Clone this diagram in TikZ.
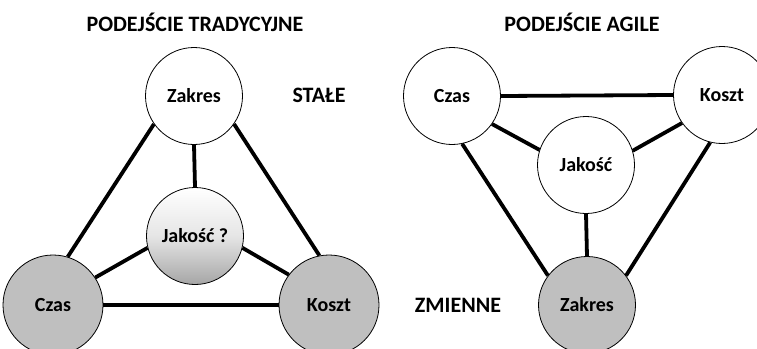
\documentclass[tikz,border=0pt]{standalone}
\usepackage{fontspec}
\setmainfont{Carlito}
\begin{document}
\begin{tikzpicture}[x=1pt,y=-1pt,
  circ/.style={circle,draw=black,line width=0.8pt,minimum size=97pt,inner sep=0pt,font=\fontsize{20}{22}\selectfont\bfseries},
  bigcirc/.style={circ,minimum size=100pt},
  varfill/.style={fill=black!25},
  link/.style={line width=3.8pt},
  title/.style={font=\fontsize{22}{25}\selectfont\bfseries},
  tag/.style={font=\fontsize{22}{25}\selectfont\bfseries}]
\useasboundingbox (0,0) rectangle (757,348);
\clip (0,0) rectangle (757,348);
% left panel
\node[title] (t1) at (195,22) {PODEJŚCIE TRADYCYJNE};
\node[tag] (st) at (319,95) {STAŁE};
\node[circ,fill=white] (lz) at (194,96) {Zakres};
\node[circ,top color=white,bottom color=black!35,middle color=white!90!black] (lj) at (195,236) {Jakość ?};
\node[bigcirc,varfill] (lc) at (53,305) {Czas};
\node[bigcirc,varfill] (lk) at (329,305) {Koszt};
\draw[link] (lz.215) -- (lc.73);
\draw[link] (lz.325) -- (lk.101);
\draw[link] (lz.south) -- (lj.north);
\draw[link] (lj.194) -- (lc.33);
\draw[link] (lj.346) -- (lk.143);
\draw[link] (lc.east) -- (lk.west);
% right panel
\node[title] (t2) at (582,22) {PODEJŚCIE AGILE};
\node[tag] (zm) at (458,305) {ZMIENNE};
\node[circ,fill=white] (rc) at (452,96) {Czas};
\node[circ,fill=white] (rk) at (722,95) {Koszt};
\node[circ,fill=white] (rj) at (586,165) {Jakość};
\node[circ,varfill] (rz) at (587,305) {Zakres};
\draw[link] (rc.east) -- (rk.west);
\draw[link] (rc.325) -- (rj.162);
\draw[link] (rk.215) -- (rj.17);
\draw[link] (rc.282) -- (rz.143);
\draw[link] (rk.256) -- (rz.37);
\draw[link] (rj.south) -- (rz.north);
\end{tikzpicture}
\end{document}
